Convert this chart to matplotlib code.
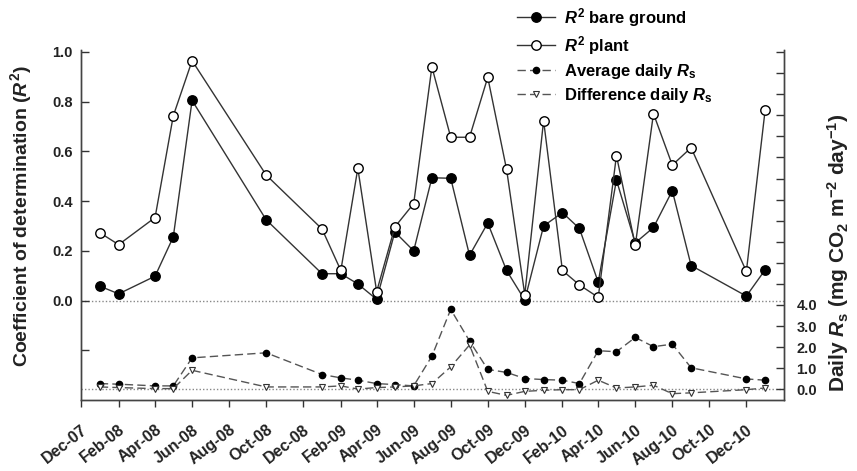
import matplotlib
matplotlib.use("Agg")
import matplotlib.pyplot as plt
import matplotlib.dates as mdates
import numpy as np
import pandas as pd

# ---- data ----
sample_dates = ["2008-01-01", "2008-02-01", "2008-04-01", "2008-05-01", "2008-06-01",
                "2008-10-01", "2009-01-01", "2009-02-01", "2009-03-01", "2009-04-01",
                "2009-05-01", "2009-06-01", "2009-07-01", "2009-08-01", "2009-09-01",
                "2009-10-01", "2009-11-01", "2009-12-01", "2010-01-01", "2010-02-01",
                "2010-03-01", "2010-04-01", "2010-05-01", "2010-06-01", "2010-07-01",
                "2010-08-01", "2010-09-01", "2010-12-01", "2011-01-01"]

r2_bare = [0.058, 0.027, 0.098, 0.256, 0.805, 0.325, 0.108, 0.108, 0.067, 0.005,
           0.276, 0.200, 0.494, 0.492, 0.182, 0.312, 0.121, 0.002, 0.300, 0.354,
           0.290, 0.074, 0.485, 0.232, 0.294, 0.442, 0.141, 0.018, 0.124]

r2_plant = [0.273, 0.225, 0.334, 0.743, 0.965, 0.505, 0.288, 0.121, 0.532, 0.036,
            0.296, 0.390, 0.940, 0.657, 0.657, 0.898, 0.528, 0.024, 0.724, 0.121,
            0.063, 0.013, 0.583, 0.222, 0.752, 0.545, 0.615, 0.117, 0.768]

avg_rs = [0.27, 0.24, 0.16, 0.16, 1.49, 1.73, 0.70, 0.54, 0.43, 0.27,
          0.22, 0.16, 1.57, 3.79, 2.29, 0.94, 0.80, 0.51, 0.46, 0.43,
          0.27, 1.83, 1.78, 2.46, 2.02, 2.14, 1.02, 0.49, 0.43]

diff_rs = [0.11, 0.08, 0.03, 0.03, 0.90, 0.11, 0.11, 0.16, 0.01, 0.08,
           0.11, 0.16, 0.27, 1.06, 2.10, -0.10, -0.29, -0.10, -0.05, -0.02,
           -0.02, 0.43, 0.06, 0.11, 0.19, -0.21, -0.17, -0.02, 0.06]

x_tick_dates = ["2007-12-01", "2008-02-01", "2008-04-01", "2008-06-01", "2008-08-01",
                "2008-10-01", "2008-12-01", "2009-02-01", "2009-04-01", "2009-06-01",
                "2009-08-01", "2009-10-01", "2009-12-01", "2010-02-01", "2010-04-01",
                "2010-06-01", "2010-08-01", "2010-10-01", "2010-12-01"]

left_ticks = [-0.2, 0.0, 0.2, 0.4, 0.6, 0.8, 1.0]
left_ticklabels = ["", "0.0", "0.2", "0.4", "0.6", "0.8", "1.0"]
right_ticks = list(range(0, 17))
right_ticklabels = ["0.0", "1.0", "2.0", "3.0", "4.0"] + [""] * 12

labels = ["$R^2$ bare ground", "$R^2$ plant",
          "Average daily $R_{\\mathrm{s}}$", "Difference daily $R_{\\mathrm{s}}$"]

# ---- style ----
plt.rcParams["font.family"] = ["Liberation Sans", "DejaVu Sans"]
plt.rcParams["font.weight"] = "bold"
plt.rcParams["mathtext.fontset"] = "custom"
plt.rcParams["mathtext.rm"] = "Liberation Sans:bold"
plt.rcParams["mathtext.bf"] = "Liberation Sans:bold"
plt.rcParams["mathtext.it"] = "Liberation Sans:bold:italic"
plt.rcParams["mathtext.default"] = "it"

dates = pd.to_datetime(sample_dates)

fig = plt.figure(figsize=(8.57, 4.71), dpi=100)
ax = fig.add_axes([81 / 857, 1 - 400 / 471, 703 / 857, 350 / 471])
ax2 = ax.twinx()

line_col = "#333333"
dash_col = "#555555"

ax.axhline(0, color="#888888", ls=(0, (1, 1.5)), lw=1.0, zorder=1)
ax2.axhline(0, color="#888888", ls=(0, (1, 1.5)), lw=1.0, zorder=1)

h1, = ax.plot(dates, r2_bare, "-", color=line_col, lw=1.0, marker="o",
              ms=6.8, mfc="black", mec="black", label=labels[0], zorder=3)
h2, = ax.plot(dates, r2_plant, "-", color=line_col, lw=1.0, marker="o",
              ms=6.8, mfc="white", mec="black", mew=1.0, label=labels[1], zorder=3)
h3, = ax2.plot(dates, avg_rs, color=dash_col, lw=1.0, ls=(0, (6, 3)), marker="o",
               ms=4.5, mfc="black", mec="black", label=labels[2], zorder=3)
h4, = ax2.plot(dates, diff_rs, color=dash_col, lw=1.0, ls=(0, (6, 3)), marker="v",
               ms=5, mfc="white", mec="#333333", mew=0.8, label=labels[3], zorder=3)

ax.set_xlim(pd.Timestamp("2007-12-01"), pd.Timestamp("2011-02-01"))
ax.set_ylim(-0.4, 1.008)
ax2.set_ylim(-0.51, 16.1)

ax.set_xticks(pd.to_datetime(x_tick_dates))
ax.xaxis.set_major_formatter(mdates.DateFormatter("%b-%y"))
for lab in ax.get_xticklabels():
    lab.set_rotation(38)
    lab.set_ha("right")
    lab.set_rotation_mode("anchor")

ax.set_yticks(left_ticks)
ax.set_yticklabels(left_ticklabels)
ax2.set_yticks(right_ticks)
ax2.set_yticklabels(right_ticklabels)

ax.tick_params(axis="x", direction="out", length=5, width=1, labelsize=11.5, pad=11, colors="#333333", labelcolor="#222222")
ax.tick_params(axis="y", direction="in", length=6, width=1, labelsize=10.5, pad=6, colors="#333333", labelcolor="#222222")
ax2.tick_params(axis="y", direction="in", length=6, width=1, labelsize=10.5, pad=9, colors="#333333", labelcolor="#222222")

for a in (ax, ax2):
    a.spines["top"].set_visible(False)
    for s in ("left", "right", "bottom"):
        a.spines[s].set_color("#444444")
        a.spines[s].set_linewidth(1.0)

ax.set_ylabel("Coefficient of determination ($R^2$)", fontsize=14, fontweight="bold", color="#222222")
ax.yaxis.set_label_coords(-0.067, 0.526)
ax2.set_ylabel("Daily $R_{\\mathrm{s}}$ (mg CO$_{\\mathrm{2}}$ m$^{\\mathrm{-2}}$ day$^{\\mathrm{-1}}$)",
               fontsize=15, fontweight="bold", color="#222222")
ax2.yaxis.set_label_coords(1.058, 0.42)

fig.legend(handles=[h1, h2, h3, h4], labels=labels, loc="upper left",
           bbox_to_anchor=(517 / 857, 1 - 6 / 471), frameon=False, fontsize=12,
           handlelength=2.3, handletextpad=0.55, labelspacing=0.3, borderpad=0.0,
           borderaxespad=0.0)

fig.savefig("out.png", dpi=100)
